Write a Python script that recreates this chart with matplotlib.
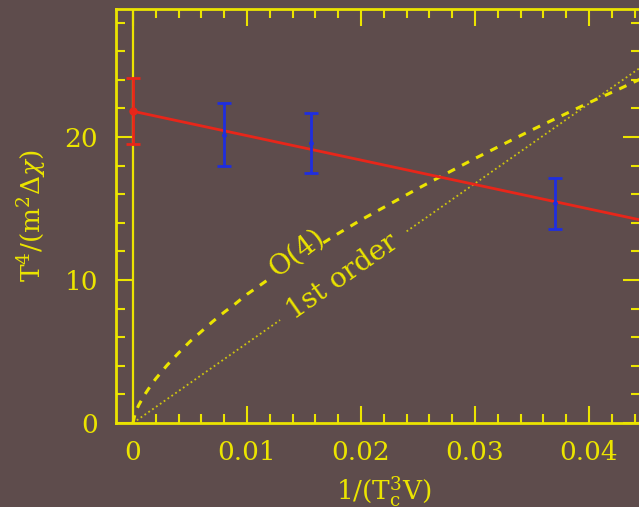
#!/usr/bin/env python3

import numpy as np
import matplotlib
matplotlib.use("Agg")
import matplotlib.pyplot as plt
from matplotlib.ticker import MultipleLocator

# data
# x = 1/(Tc^3 V), y = T^4/(m^2 dchi)

red_x = [0.0]            # extrapolated point
red_y = [21.8]
red_err = [2.3]

blue_x = [0.008, 0.0156, 0.037]     # lattice points
blue_y = [20.15, 19.6, 15.35]
blue_err = [2.2, 2.1, 1.75]

fit_x = [0.0, 0.0445]    # red straight fit
fit_y = [21.8, 14.2]

# O(4) curve, split where the label sits
o4_x1 = [0.0, 0.0002, 0.0005, 0.001, 0.0015, 0.002, 0.003, 0.004,
         0.005, 0.006, 0.007, 0.008, 0.009, 0.010, 0.011, 0.0118]
o4_y1 = [0.0, 0.7, 1.25, 1.95, 2.55, 3.1, 4.05, 4.9,
         5.7, 6.4, 7.1, 7.75, 8.35, 9.0, 9.55, 10.0]
o4_x2 = [0.0167, 0.018, 0.020, 0.0225, 0.025, 0.0275, 0.030, 0.0325,
         0.035, 0.0375, 0.040, 0.0425, 0.0445]
o4_y2 = [12.6, 13.25, 14.2, 15.3, 16.4, 17.45, 18.5, 19.5,
         20.5, 21.45, 22.4, 23.3, 24.05]

# 1st order line, split where the label sits
first_x1 = [0.0, 0.0129]
first_y1 = [0.0, 7.2]
first_x2 = [0.024, 0.0445]
first_y2 = [13.4, 24.85]

xticks = [0, 0.01, 0.02, 0.03, 0.04]
xticklabels = ['0', '0.01', '0.02', '0.03', '0.04']
yticks = [0, 10, 20]
yticklabels = ['0', '10', '20']

yellow = '#ebe400'
red = '#e8261a'
blue = '#1f2ee0'
bg = '#5e4c4c'

plt.rcParams['font.family'] = ['DejaVu Serif']
plt.rcParams['mathtext.fontset'] = 'dejavuserif'

fig = plt.figure(figsize=(6.39, 5.07), dpi=100)
fig.patch.set_facecolor(bg)

W, H = 639.0, 507.0
ax = fig.add_axes([116 / W, (H - 423) / H, (640 - 116) / W, (423 - 9) / H])
ax.set_facecolor(bg)

ax.set_xlim(-0.00149, 0.04447)
ax.set_ylim(0, 28.95)

# vertical line at x = 0
ax.axvline(0, color=yellow, lw=1.6, zorder=2)

# model curves
ax.plot(o4_x1, o4_y1, color=yellow, lw=2.2, ls=(0, (2.6, 2.6)), zorder=3)
ax.plot(o4_x2, o4_y2, color=yellow, lw=2.2, ls=(0, (2.6, 2.6)), zorder=3)
ax.plot(first_x1, first_y1, color=yellow, lw=1.3, ls=(0, (1, 1.6)), alpha=0.8, zorder=3)
ax.plot(first_x2, first_y2, color=yellow, lw=1.3, ls=(0, (1, 1.6)), alpha=0.8, zorder=3)

ax.text(0.01439, 11.9, 'O(4)', color=yellow, fontsize=20, rotation=37,
        ha='center', va='center', rotation_mode='anchor')
ax.text(0.01842, 10.24, '1st order', color=yellow, fontsize=20, rotation=35,
        ha='center', va='center', rotation_mode='anchor')

# fit and data
ax.plot(fit_x, fit_y, color=red, lw=2.0, zorder=4)
ax.errorbar(red_x, red_y, yerr=red_err, fmt='o', color=red, ms=5,
            elinewidth=2.0, capsize=5, capthick=2.0, zorder=5, clip_on=False)
ax.errorbar(blue_x, blue_y, yerr=blue_err, fmt='.', color=blue, ms=5,
            elinewidth=2.0, capsize=5, capthick=2.0, zorder=5)

# axes styling
for s in ax.spines.values():
    s.set_color(yellow)
    s.set_linewidth(2.0)

ax.set_xticks(xticks)
ax.set_xticklabels(xticklabels)
ax.set_yticks(yticks)
ax.set_yticklabels(yticklabels)
ax.xaxis.set_minor_locator(MultipleLocator(0.002))
ax.yaxis.set_minor_locator(MultipleLocator(2))
ax.tick_params(which='both', direction='in', top=True, right=True,
               colors=yellow, width=1.5, labelsize=19)
ax.tick_params(which='major', length=12)
ax.tick_params(which='minor', length=6.5)
ax.tick_params(axis='x', which='major', pad=12)
ax.tick_params(axis='y', which='major', pad=13)

ax.set_xlabel(r'1/(T$_{\rm c}^{3}$V)', color=yellow, fontsize=19)
ax.xaxis.set_label_coords(0.511, -0.125)
ax.set_ylabel(r'T$^4$/(m$^2\Delta\chi$)', color=yellow, fontsize=19)
ax.yaxis.set_label_coords(-0.13, 0.5)

plt.savefig('out.png', dpi=100, facecolor=bg)
